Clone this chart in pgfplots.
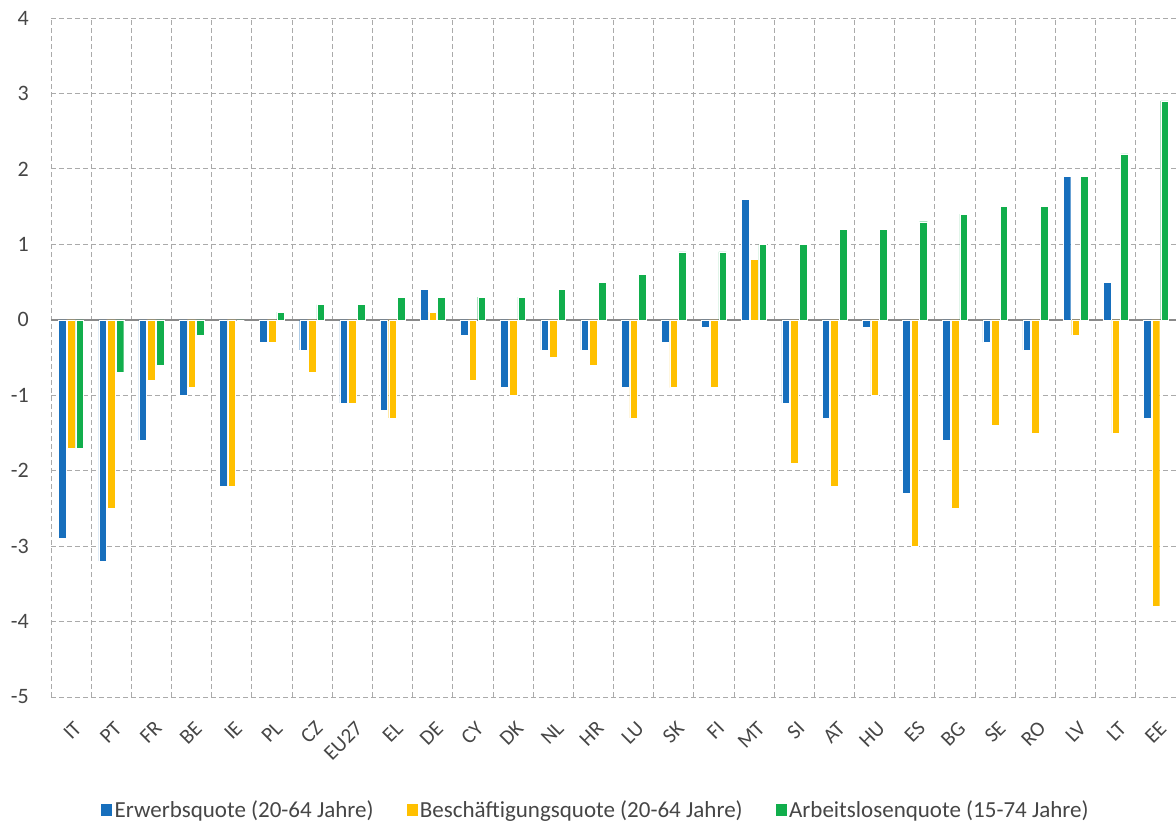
\documentclass[border=0pt]{standalone}
\usepackage{fontspec}
\setmainfont{Carlito}
\usepackage{pgfplots}
\usepackage{pgfplotstable}
\pgfplotsset{compat=1.18}
\definecolor{cblue}{RGB}{23,111,189}
\definecolor{cyellow}{RGB}{255,192,0}
\definecolor{cgreen}{RGB}{17,174,76}
\definecolor{cgrid}{RGB}{170,170,170}
\definecolor{czero}{RGB}{137,137,137}
\definecolor{ctext}{RGB}{70,70,70}
\pgfplotstableread{
x lab e b a
0 IT -2.9 -1.7 -1.7
1 PT -3.2 -2.5 -0.7
2 FR -1.6 -0.8 -0.6
3 BE -1.0 -0.9 -0.2
4 IE -2.2 -2.2 0.0
5 PL -0.3 -0.3 0.1
6 CZ -0.4 -0.7 0.2
7 EU27 -1.1 -1.1 0.2
8 EL -1.2 -1.3 0.3
9 DE 0.4 0.1 0.3
10 CY -0.2 -0.8 0.3
11 DK -0.9 -1.0 0.3
12 NL -0.4 -0.5 0.4
13 HR -0.4 -0.6 0.5
14 LU -0.9 -1.3 0.6
15 SK -0.3 -0.9 0.9
16 FI -0.1 -0.9 0.9
17 MT 1.6 0.8 1.0
18 SI -1.1 -1.9 1.0
19 AT -1.3 -2.2 1.2
20 HU -0.1 -1.0 1.2
21 ES -2.3 -3.0 1.3
22 BG -1.6 -2.5 1.4
23 SE -0.3 -1.4 1.5
24 RO -0.4 -1.5 1.5
25 LV 1.9 -0.2 1.9
26 LT 0.5 -1.5 2.2
27 EE -1.3 -3.8 2.9
}\data
\begin{document}
\begin{tikzpicture}
\begin{axis}[
  scale only axis, width=1125pt, height=679pt,
  xmin=-0.5, xmax=27.5, ymin=-5, ymax=4,
  ytick={-5,...,4},
  xtick=data,
  xticklabels from table={\data}{lab},
  minor xtick={-0.5,0.5,...,27.5},
  xminorgrids, ymajorgrids,
  grid style={dash pattern=on 5pt off 3pt, cgrid, line width=0.9pt},
  minor grid style={dash pattern=on 5pt off 3pt, cgrid, line width=0.9pt},
  axis line style={draw=none},
  major tick length=0pt, minor tick length=0pt,
  extra y ticks={0}, extra y tick labels={},
  extra y tick style={grid=major, major grid style={solid, czero, line width=1.6pt}},
  /pgf/number format/assume math mode=true,
  yticklabel style={font=\fontsize{22}{26}\selectfont, text=ctext, inner sep=0pt, xshift=-22pt},
  x tick label style={font=\fontsize{21}{25}\selectfont, text=ctext, inner sep=0pt, xshift=7pt, yshift=-28pt, rotate=45, anchor=east},
  legend style={at={(0.484,-0.1664)}, anchor=center, draw=none, legend columns=3,
    font=\fontsize{23}{27}\selectfont, text=ctext,
    /tikz/every even column/.append style={column sep=30pt}},
  legend image code/.code={\fill[#1] (0pt,-6pt) rectangle (12pt,7pt);},
]
\addplot[ybar, bar width=0.19, bar shift=-0.215, fill=cblue, draw=white, line width=0.4pt] table[x=x,y=e]{\data};
\addlegendentry{Erwerbsquote (20-64 Jahre)}
\addplot[ybar, bar width=0.19, bar shift=0, fill=cyellow, draw=white, line width=0.4pt] table[x=x,y=b]{\data};
\addlegendentry{Beschäftigungsquote (20-64 Jahre)}
\addplot[ybar, bar width=0.19, bar shift=0.215, fill=cgreen, draw=white, line width=0.4pt] table[x=x,y=a]{\data};
\addlegendentry{Arbeitslosenquote (15-74 Jahre)}
\end{axis}
\pgfresetboundingbox
\path ([xshift=-51pt,yshift=-125pt]current axis.south west) rectangle ([yshift=18pt]current axis.north east);
\end{tikzpicture}
\end{document}
